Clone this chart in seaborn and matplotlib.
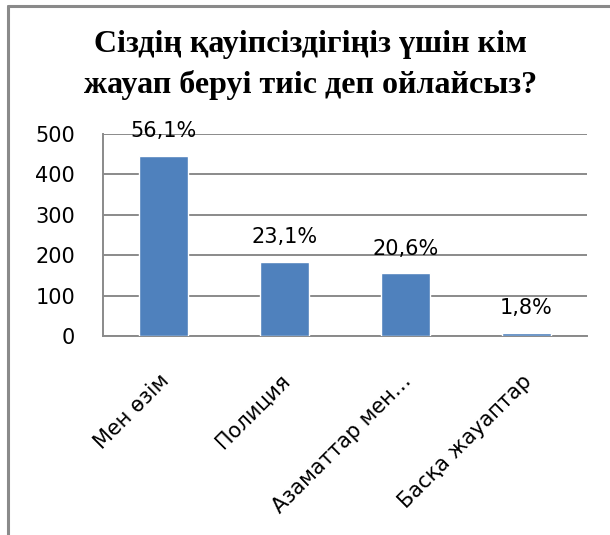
import numpy as np
import pandas as pd
import seaborn as sns
from matplotlib import pyplot as plt
from matplotlib.lines import Line2D
from matplotlib.transforms import ScaledTranslation

# data
categories = ["Мен өзім", "Полиция", "Азаматтар мен…", "Басқа жауаптар"]
counts = [446, 184, 155, 7]
pct_labels = ["56,1%", "23,1%", "20,6%", "1,8%"]
title = "Сіздің қауіпсіздігіңіз үшін кім\nжауап беруі тиіс деп ойлайсыз?"

df = pd.DataFrame({"cat": categories, "n": counts})

sns.set_style("white")
plt.rcParams["font.family"] = ["DejaVu Sans"]
plt.rcParams["text.color"] = "black"
plt.rcParams["xtick.labelcolor"] = "black"
plt.rcParams["ytick.labelcolor"] = "black"

fig = plt.figure(figsize=(6.1, 5.35), dpi=100)
ax = fig.add_axes([103 / 610, 1 - 336 / 535, 484 / 610, 202 / 535])

sns.barplot(data=df, x="cat", y="n", color="#4F81BD", saturation=1,
            width=0.4, ax=ax, zorder=3)

grey = "#8a8a8a"
ax.set_ylim(0, 500)
ax.set_xlim(-0.5, 3.5)
ax.set_yticks(np.arange(0, 501, 100))
ax.yaxis.grid(True, color=grey, lw=1.4, zorder=0)
ax.set_axisbelow(True)
for s in ["top", "right"]:
    ax.spines[s].set_visible(False)
for s in ["left", "bottom"]:
    ax.spines[s].set_color(grey)
    ax.spines[s].set_linewidth(1.4)
ax.set_xlabel("")
ax.set_ylabel("")

# y ticks stick out to the left, x ticks at category boundaries
ax.tick_params(axis="y", length=6, width=1.4, color=grey, labelsize=15, pad=14)
ax.set_xticks(np.arange(-0.5, 4, 1), minor=True)
ax.tick_params(axis="x", which="minor", length=6, width=1.4, color=grey, direction="out")
ax.tick_params(axis="x", which="major", length=0, pad=25)
ax.set_xticks(range(len(categories)))
ax.set_xticklabels(categories, rotation=45, ha="right", va="top",
                   rotation_mode="anchor", fontsize=15)
shift = ScaledTranslation(-5 / 100, 0, fig.dpi_scale_trans)
for t in ax.get_xticklabels():
    t.set_transform(t.get_transform() + shift)

for i, (v, lab) in enumerate(zip(counts, pct_labels)):
    ax.annotate(lab, (i, v), xytext=(0, 13.5), textcoords="offset points",
                ha="center", va="baseline", fontsize=15)

fig.text(311 / 610, 1 - 65 / 535, title, ha="center", va="center",
         fontsize=23, fontweight="bold", family="Liberation Serif",
         linespacing=1.5)

# chart frame (only top and left edges visible)
fig.add_artist(Line2D([8 / 610, 1], [1 - 6 / 535] * 2, color=grey, lw=2.2,
                      transform=fig.transFigure))
fig.add_artist(Line2D([8 / 610] * 2, [0, 1 - 6 / 535], color=grey, lw=2.2,
                      transform=fig.transFigure))

fig.savefig("out.png", dpi=100)
